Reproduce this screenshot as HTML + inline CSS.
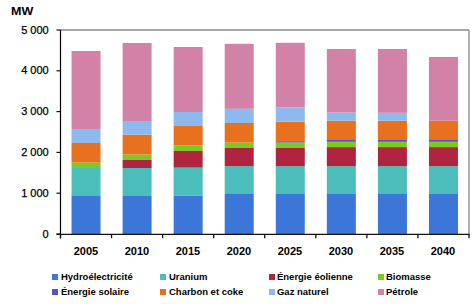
<!DOCTYPE html>
<html><head><meta charset="utf-8">
<style>
html,body{margin:0;padding:0;background:#fff;}
body{width:472px;height:304px;position:relative;overflow:hidden;font-family:"Liberation Sans",sans-serif;color:#000;}
svg{position:absolute;left:0;top:0;}
.yl{position:absolute;right:423.3px;font-size:11px;line-height:13px;white-space:nowrap;-webkit-text-stroke:0.25px #000;}
.xl{position:absolute;top:243.8px;width:50px;text-align:center;font-size:11.6px;line-height:13px;font-weight:bold;transform:scaleX(0.95);}
.mw{position:absolute;left:11.4px;top:5px;font-size:10.5px;line-height:13px;font-weight:bold;transform-origin:0 0;transform:scaleX(1.19);}
.sq{position:absolute;width:6px;height:6px;}
.lt{position:absolute;font-size:9.9px;line-height:13px;font-weight:bold;white-space:nowrap;transform-origin:0 0;transform:scaleX(0.96);}
</style></head><body>
<svg width="472" height="304" viewBox="0 0 472 304">
<rect x="71.53" y="196.00" width="29" height="38.00" fill="#3b76d8"/><rect x="71.53" y="168.00" width="29" height="28.00" fill="#4bbdbb"/><rect x="71.53" y="162.60" width="29" height="5.40" fill="#7acb1f"/><rect x="71.53" y="143.00" width="29" height="19.60" fill="#e8711f"/><rect x="71.53" y="129.00" width="29" height="14.00" fill="#8eb9ef"/><rect x="71.53" y="51.00" width="29" height="78.00" fill="#d281a7"/><rect x="122.59" y="196.00" width="29" height="38.00" fill="#3b76d8"/><rect x="122.59" y="168.00" width="29" height="28.00" fill="#4bbdbb"/><rect x="122.59" y="160.00" width="29" height="8.00" fill="#b0243f"/><rect x="122.59" y="154.50" width="29" height="5.50" fill="#7acb1f"/><rect x="122.59" y="134.70" width="29" height="19.80" fill="#e8711f"/><rect x="122.59" y="121.00" width="29" height="13.70" fill="#8eb9ef"/><rect x="122.59" y="43.00" width="29" height="78.00" fill="#d281a7"/><rect x="173.66" y="195.50" width="29" height="38.50" fill="#3b76d8"/><rect x="173.66" y="167.60" width="29" height="27.90" fill="#4bbdbb"/><rect x="173.66" y="151.00" width="29" height="16.60" fill="#b0243f"/><rect x="173.66" y="145.30" width="29" height="5.70" fill="#7acb1f"/><rect x="173.66" y="126.00" width="29" height="19.30" fill="#e8711f"/><rect x="173.66" y="112.00" width="29" height="14.00" fill="#8eb9ef"/><rect x="173.66" y="47.00" width="29" height="65.00" fill="#d281a7"/><rect x="224.72" y="194.00" width="29" height="40.00" fill="#3b76d8"/><rect x="224.72" y="166.20" width="29" height="27.80" fill="#4bbdbb"/><rect x="224.72" y="148.00" width="29" height="18.20" fill="#b0243f"/><rect x="224.72" y="142.60" width="29" height="5.40" fill="#7acb1f"/><rect x="224.72" y="123.00" width="29" height="19.60" fill="#e8711f"/><rect x="224.72" y="108.80" width="29" height="14.20" fill="#8eb9ef"/><rect x="224.72" y="43.80" width="29" height="65.00" fill="#d281a7"/><rect x="275.78" y="194.00" width="29" height="40.00" fill="#3b76d8"/><rect x="275.78" y="166.20" width="29" height="27.80" fill="#4bbdbb"/><rect x="275.78" y="148.00" width="29" height="18.20" fill="#b0243f"/><rect x="275.78" y="142.50" width="29" height="5.50" fill="#7acb1f"/><rect x="275.78" y="141.20" width="29" height="1.30" fill="#5a4ed2"/><rect x="275.78" y="121.70" width="29" height="19.50" fill="#e8711f"/><rect x="275.78" y="107.50" width="29" height="14.20" fill="#8eb9ef"/><rect x="275.78" y="42.80" width="29" height="64.70" fill="#d281a7"/><rect x="326.84" y="194.00" width="29" height="40.00" fill="#3b76d8"/><rect x="326.84" y="166.20" width="29" height="27.80" fill="#4bbdbb"/><rect x="326.84" y="147.10" width="29" height="19.10" fill="#b0243f"/><rect x="326.84" y="141.80" width="29" height="5.30" fill="#7acb1f"/><rect x="326.84" y="140.00" width="29" height="1.80" fill="#5a4ed2"/><rect x="326.84" y="120.70" width="29" height="19.30" fill="#e8711f"/><rect x="326.84" y="112.50" width="29" height="8.20" fill="#8eb9ef"/><rect x="326.84" y="49.00" width="29" height="63.50" fill="#d281a7"/><rect x="377.91" y="194.00" width="29" height="40.00" fill="#3b76d8"/><rect x="377.91" y="166.20" width="29" height="27.80" fill="#4bbdbb"/><rect x="377.91" y="147.10" width="29" height="19.10" fill="#b0243f"/><rect x="377.91" y="141.80" width="29" height="5.30" fill="#7acb1f"/><rect x="377.91" y="140.00" width="29" height="1.80" fill="#5a4ed2"/><rect x="377.91" y="120.70" width="29" height="19.30" fill="#e8711f"/><rect x="377.91" y="112.80" width="29" height="7.90" fill="#8eb9ef"/><rect x="377.91" y="49.00" width="29" height="63.80" fill="#d281a7"/><rect x="428.97" y="194.00" width="29" height="40.00" fill="#3b76d8"/><rect x="428.97" y="166.20" width="29" height="27.80" fill="#4bbdbb"/><rect x="428.97" y="147.10" width="29" height="19.10" fill="#b0243f"/><rect x="428.97" y="141.80" width="29" height="5.30" fill="#7acb1f"/><rect x="428.97" y="140.00" width="29" height="1.80" fill="#5a4ed2"/><rect x="428.97" y="120.70" width="29" height="19.30" fill="#e8711f"/><rect x="428.97" y="57.00" width="29" height="63.70" fill="#d281a7"/>
<line x1="60.5" y1="30" x2="469" y2="30" stroke="#8a8a8a" stroke-width="1.3"/>
<line x1="469" y1="30" x2="469" y2="234" stroke="#8a8a8a" stroke-width="1.3"/>
<line x1="60.5" y1="30" x2="60.5" y2="238.5" stroke="#000" stroke-width="1.2"/>
<line x1="56.5" y1="234.3" x2="469.5" y2="234.3" stroke="#111" stroke-width="1.3"/>
<line x1="56.5" y1="234.00" x2="60.5" y2="234.00" stroke="#111" stroke-width="1.2"/><line x1="56.5" y1="193.20" x2="60.5" y2="193.20" stroke="#111" stroke-width="1.2"/><line x1="56.5" y1="152.40" x2="60.5" y2="152.40" stroke="#111" stroke-width="1.2"/><line x1="56.5" y1="111.60" x2="60.5" y2="111.60" stroke="#111" stroke-width="1.2"/><line x1="56.5" y1="70.80" x2="60.5" y2="70.80" stroke="#111" stroke-width="1.2"/><line x1="56.5" y1="30.00" x2="60.5" y2="30.00" stroke="#111" stroke-width="1.2"/><line x1="60.50" y1="234" x2="60.50" y2="238.2" stroke="#111" stroke-width="1.3"/><line x1="111.56" y1="234" x2="111.56" y2="238.2" stroke="#111" stroke-width="1.3"/><line x1="162.62" y1="234" x2="162.62" y2="238.2" stroke="#111" stroke-width="1.3"/><line x1="213.69" y1="234" x2="213.69" y2="238.2" stroke="#111" stroke-width="1.3"/><line x1="264.75" y1="234" x2="264.75" y2="238.2" stroke="#111" stroke-width="1.3"/><line x1="315.81" y1="234" x2="315.81" y2="238.2" stroke="#111" stroke-width="1.3"/><line x1="366.88" y1="234" x2="366.88" y2="238.2" stroke="#111" stroke-width="1.3"/><line x1="417.94" y1="234" x2="417.94" y2="238.2" stroke="#111" stroke-width="1.3"/><line x1="469.00" y1="234" x2="469.00" y2="238.2" stroke="#111" stroke-width="1.3"/>
</svg>
<div class="mw">MW</div>
<div class="yl" style="top:227.50px">0</div><div class="yl" style="top:186.70px">1 000</div><div class="yl" style="top:145.90px">2 000</div><div class="yl" style="top:105.10px">3 000</div><div class="yl" style="top:64.30px">4 000</div><div class="yl" style="top:23.50px">5 000</div>
<div class="xl" style="left:61.03px">2005</div><div class="xl" style="left:112.09px">2010</div><div class="xl" style="left:163.16px">2015</div><div class="xl" style="left:214.22px">2020</div><div class="xl" style="left:265.28px">2025</div><div class="xl" style="left:316.34px">2030</div><div class="xl" style="left:367.41px">2035</div><div class="xl" style="left:418.47px">2040</div>
<div class="sq" style="left:52.3px;top:274.0px;background:#3b76d8"></div><div class="lt" style="left:60.6px;top:270.1px">Hydroélectricité</div><div class="sq" style="left:160.4px;top:274.0px;background:#4bbdbb"></div><div class="lt" style="left:168.7px;top:270.1px">Uranium</div><div class="sq" style="left:268.9px;top:274.0px;background:#b0243f"></div><div class="lt" style="left:277.2px;top:270.1px">Énergie éolienne</div><div class="sq" style="left:377.5px;top:274.0px;background:#7acb1f"></div><div class="lt" style="left:385.8px;top:270.1px">Biomasse</div><div class="sq" style="left:52.3px;top:289.0px;background:#5a4ed2"></div><div class="lt" style="left:60.6px;top:285.1px">Énergie solaire</div><div class="sq" style="left:160.4px;top:289.0px;background:#e8711f"></div><div class="lt" style="left:168.7px;top:285.1px">Charbon et coke</div><div class="sq" style="left:268.9px;top:289.0px;background:#8eb9ef"></div><div class="lt" style="left:277.2px;top:285.1px">Gaz naturel</div><div class="sq" style="left:377.5px;top:289.0px;background:#d281a7"></div><div class="lt" style="left:385.8px;top:285.1px">Pétrole</div>
</body></html>
